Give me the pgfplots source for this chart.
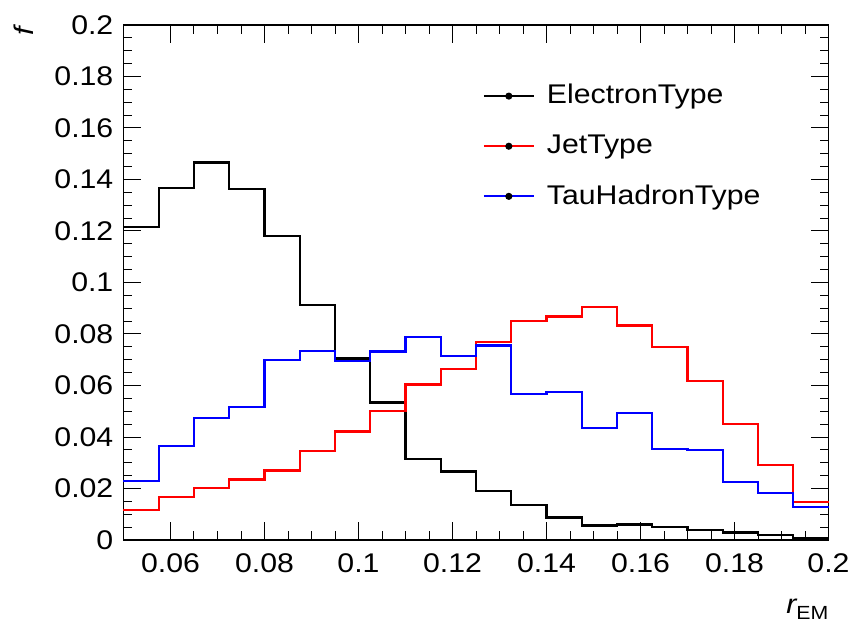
\documentclass[border=0pt]{standalone}
\usepackage{pgfplots}
\pgfplotsset{compat=1.18}
\usepackage{fontspec}
\setmainfont{Liberation Sans}[FakeStretch=1.12]
\pgfplotstableread{
x e j t
0.05   0.1214 0.0117 0.0230
0.0575 0.1367 0.0167 0.0366
0.065  0.1466 0.0202 0.0473
0.0725 0.1363 0.0235 0.0516
0.08   0.1181 0.0270 0.0700
0.0875 0.0913 0.0345 0.0735
0.095  0.0705 0.0421 0.0696
0.1025 0.0534 0.0502 0.0732
0.11   0.0316 0.0604 0.0787
0.1175 0.0266 0.0665 0.0715
0.125  0.0191 0.0769 0.0755
0.1325 0.0137 0.0851 0.0567
0.14   0.0087 0.0868 0.0574
0.1475 0.0056 0.0904 0.0435
0.155  0.0060 0.0833 0.0493
0.1625 0.0052 0.0751 0.0354
0.17   0.0040 0.0619 0.0348
0.1775 0.0029 0.0450 0.0225
0.185  0.0020 0.0292 0.0182
0.1925 0.0007 0.0147 0.0128
0.2    0.0007 0.0147 0.0128
}\hist
\begin{document}
\fontsize{27}{31}\selectfont
\begin{tikzpicture}
\useasboundingbox (-123.5pt,-89pt) rectangle (729.5pt,540pt);
\begin{axis}[
  scale only axis, width=705pt, height=515pt,
  xmin=0.05, xmax=0.2, ymin=0, ymax=0.2,
  xtick={0.06,0.08,...,0.2}, ytick={0,0.02,...,0.2},
  minor x tick num=3, minor y tick num=3,
  tick align=inside, xtick pos=both, ytick pos=both,
  major tick length=18pt, minor tick length=9pt,
  axis line style={line width=1.2pt},
  every tick/.style={black, line width=1pt},
  /pgf/number format/assume math mode=true,
  /pgf/number format/fixed,
  /pgf/number format/precision=2,
  ticklabel style={font=\fontsize{27}{31}\selectfont},
  yticklabel style={xshift=-1pt},
  xticklabel style={yshift=-4pt},
  scaled ticks=false,
  clip=false,
  legend cell align=left,
  legend style={at={(rel axis cs:0.505,0.893)}, anchor=north west, draw=none, fill=none,
    font=\fontsize{27}{31}\selectfont, row sep=23pt,
    /tikz/every odd column/.append style={column sep=10pt}},
  legend image code/.code={
    \draw[#1, line width=2.2pt] (0pt,0pt) -- (50pt,0pt);
    \fill[black] (25pt,0pt) circle (2.4pt);
  },
]
\addplot[const plot, black, line width=2.2pt] table[x=x,y=e] {\hist};
\addlegendentry{ElectronType}
\addplot[const plot, red, line width=2.2pt] table[x=x,y=j] {\hist};
\addlegendentry{JetType}
\addplot[const plot, blue, line width=2.2pt] table[x=x,y=t] {\hist};
\addlegendentry{TauHadronType}
\node[rotate=90, anchor=south east, inner sep=0pt, font=\fontsize{27}{31}\selectfont\itshape] at ([xshift=-90pt, yshift=-2pt]rel axis cs:0,1) {f};
\node[anchor=north east, inner sep=0pt] at ([yshift=-59pt]rel axis cs:1,0) {\itshape r\raisebox{-0.4ex}{\upshape\fontsize{19}{19}\selectfont EM}};
\end{axis}
\end{tikzpicture}
\end{document}
